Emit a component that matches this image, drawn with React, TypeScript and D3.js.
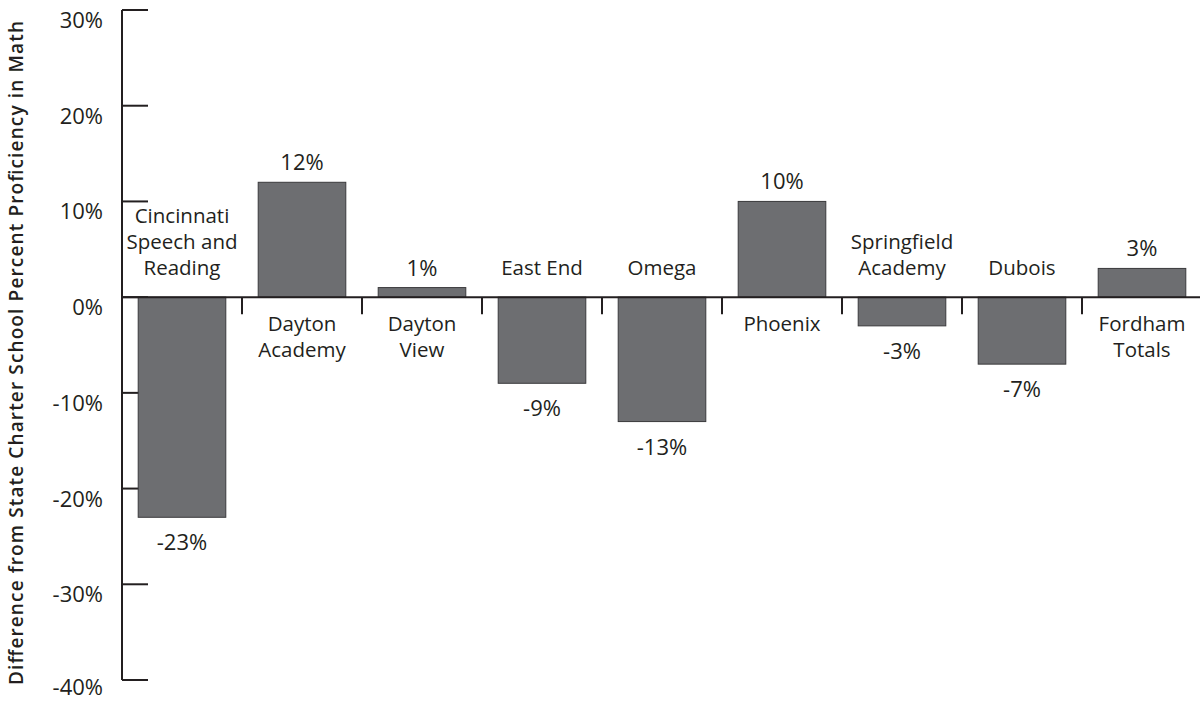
import React from "react";
import * as d3 from "d3";

const categories = [
  "Cincinnati Speech and Reading",
  "Dayton Academy",
  "Dayton View",
  "East End",
  "Omega",
  "Phoenix",
  "Springfield Academy",
  "Dubois",
  "Fordham Totals",
];
const categoryLines = [
  ["Cincinnati", "Speech and", "Reading"],
  ["Dayton", "Academy"],
  ["Dayton", "View"],
  ["East End"],
  ["Omega"],
  ["Phoenix"],
  ["Springfield", "Academy"],
  ["Dubois"],
  ["Fordham", "Totals"],
];
const values = [-23, 12, 1, -9, -13, 10, -3, -7, 3];
const yTicks = [30, 20, 10, 0, -10, -20, -30, -40];
const yTitle = "Difference from State Charter School Percent Proficiency in Math";

const W = 1200;
const H = 702;
const FONT = "'Open Sans', 'DejaVu Sans', sans-serif";

export default function App() {
  const axisX = 122;
  const y = d3.scaleLinear().domain([-40, 30]).range([680, 10]);
  const x = d3
    .scaleBand<string>()
    .domain(categories)
    .range([axisX, 1202])
    .paddingInner(0.27)
    .paddingOuter(0.135);
  const y0 = y(0);
  const gap = (x.step() * x.paddingInner()) / 2;
  const lh = 26;

  return (
    <div style={{ position: "fixed", left: 0, top: 0 }}>
      <svg width={W} height={H} style={{ display: "block", background: "#fff" }}>
        {/* y title */}
        <text
          transform={`translate(23, 353) rotate(-90)`}
          textAnchor="middle"
          fontFamily={FONT}
          fontSize={19}
          fontWeight={600}
          fill="#231f20"
          textLength={664}
          lengthAdjust="spacing"
        >
          {yTitle}
        </text>

        {/* y axis */}
        <line x1={axisX} x2={axisX} y1={y(30)} y2={y(-40)} stroke="#231f20" strokeWidth={2} />
        {yTicks.map((t) => (
          <g key={t}>
            <line x1={axisX} x2={148} y1={y(t)} y2={y(t)} stroke="#231f20" strokeWidth={2} />
            <text
              x={103}
              y={Math.min(y(t) + 18, 695)}
              textAnchor="end"
              fontFamily={FONT}
              fontSize={22}
              fill="#231f20"
            >
              {t}%
            </text>
          </g>
        ))}

        {/* bars */}
        {values.map((v, i) => {
          const c = categories[i];
          return (
            <rect
              key={c}
              x={x(c)}
              y={Math.min(y(v), y0)}
              width={x.bandwidth()}
              height={Math.abs(y(v) - y0)}
              fill="#6d6e71"
              stroke="#3a3a3c"
              strokeWidth={1}
            />
          );
        })}

        {/* zero line + category ticks */}
        <line x1={axisX} x2={W} y1={y0} y2={y0} stroke="#231f20" strokeWidth={2} />
        {categories.slice(1).map((c) => (
          <line
            key={c}
            x1={(x(c) as number) - gap}
            x2={(x(c) as number) - gap}
            y1={y0}
            y2={y0 + 17}
            stroke="#231f20"
            strokeWidth={2}
          />
        ))}

        {/* value labels */}
        {values.map((v, i) => {
          const cx = (x(categories[i]) as number) + x.bandwidth() / 2;
          return (
            <text
              key={"v" + i}
              x={cx}
              y={v >= 0 ? y(v) - 12 : y(v) + 33}
              textAnchor="middle"
              fontFamily={FONT}
              fontSize={22}
              fill="#231f20"
            >
              {v}%
            </text>
          );
        })}

        {/* category labels */}
        {categoryLines.map((lines, i) => {
          const cx = (x(categories[i]) as number) + x.bandwidth() / 2;
          const v = values[i];
          const start = v < 0 ? y0 - 22 - (lines.length - 1) * lh : y0 + 34;
          return (
            <text
              key={"c" + i}
              textAnchor="middle"
              fontFamily={FONT}
              fontSize={20.5}
              fill="#231f20"
            >
              {lines.map((l, j) => (
                <tspan key={j} x={cx} y={start + j * lh}>
                  {l}
                </tspan>
              ))}
            </text>
          );
        })}
      </svg>
    </div>
  );
}
